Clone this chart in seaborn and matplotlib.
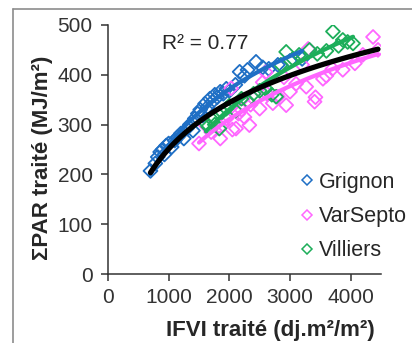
import numpy as np
import pandas as pd
import matplotlib
matplotlib.use("Agg")
import matplotlib.pyplot as plt
from matplotlib.lines import Line2D
import seaborn as sns

sns.set_style("white")
plt.rcParams['font.family'] = ['Liberation Sans', 'DejaVu Sans']

# ---- data ----
grignon_x = [700, 780, 820, 860, 900, 930, 960, 1000, 1050, 1100, 1150, 1200, 1250, 1300,
             1350, 1400, 1430, 1480, 1520, 1560, 1600, 1640, 1680, 1720, 1760, 1800, 1850,
             1900, 1950, 2000, 2100, 2170, 2250, 2300, 2440, 2550, 2650, 2800, 3000, 3200]
grignon_y = [207, 222, 235, 245, 250, 240, 258, 262, 255, 268, 275, 282, 272, 292,
             300, 288, 312, 322, 330, 318, 342, 335, 352, 346, 360, 355, 366,
             362, 372, 368, 380, 406, 398, 410, 426, 415, 412, 420, 428, 432]

varsepto_x = [1500, 1600, 1700, 1850, 1890, 1950, 2030, 2050, 2110, 2150, 2200, 2250, 2330,
              2350, 2400, 2500, 2550, 2620, 2717, 2800, 2937, 3000, 3100, 3267, 3300, 3405,
              3420, 3543, 3600, 3700, 3870, 4070, 4200, 4369, 4450, 2600, 2900, 3200]
varsepto_y = [262, 300, 285, 272, 300, 312, 373, 290, 292, 322, 330, 315, 299,
              340, 352, 332, 385, 362, 343, 356, 339, 366, 382, 376, 452, 346,
              355, 392, 398, 412, 410, 423, 440, 476, 450, 405, 395, 420]

villiers_x = [1615, 1650, 1700, 1760, 1835, 1880, 1950, 2000, 2100, 2200, 2300, 2400, 2500,
              2600, 2700, 2771, 2850, 2937, 3050, 3150, 3322, 3450, 3600, 3708, 3800, 3870,
              3950, 4039]
villiers_y = [303, 296, 312, 300, 292, 325, 332, 338, 328, 352, 348, 362, 368,
              372, 360, 356, 420, 446, 432, 440, 450, 442, 448, 487, 458, 470,
              466, 463]

sites = ["Grignon", "VarSepto", "Villiers"]
colors = {"Grignon": "#1F6FC5", "VarSepto": "#FF66FF", "Villiers": "#1DAE5A"}
x_ticks = [0, 1000, 2000, 3000, 4000]
y_ticks = [0, 100, 200, 300, 400, 500]
r2_text = "R² = 0.77"

df = pd.concat([
    pd.DataFrame({"x": grignon_x, "y": grignon_y, "site": "Grignon"}),
    pd.DataFrame({"x": varsepto_x, "y": varsepto_y, "site": "VarSepto"}),
    pd.DataFrame({"x": villiers_x, "y": villiers_y, "site": "Villiers"}),
], ignore_index=True)

fig = plt.figure(figsize=(4.12, 3.43), dpi=100)
# grey frame (left and top edges visible)
fig.add_artist(Line2D([12.5 / 412, 12.5 / 412], [0, 1 - 8.5 / 343], transform=fig.transFigure,
                      color="#8c8c8c", lw=1.2))
fig.add_artist(Line2D([12.5 / 412, 1], [1 - 8.5 / 343, 1 - 8.5 / 343], transform=fig.transFigure,
                      color="#8c8c8c", lw=1.2))

ax = fig.add_axes([108 / 412, 1 - 274 / 343, 273 / 412, 249 / 343])

sns.scatterplot(data=df, x="x", y="y", hue="site", hue_order=sites, palette=colors,
                marker="D", s=50, linewidth=1.3, ax=ax, legend=False)
for c in ax.collections:
    fc = c.get_facecolors()
    c.set_edgecolors(fc)
    c.set_facecolors("none")

# site-wise logarithmic trends
for site in sites:
    sub = df[df.site == site]
    b, a = np.polyfit(np.log(sub.x), sub.y, 1)
    xs = np.linspace(sub.x.min(), sub.x.max(), 100)
    ax.plot(xs, a + b * np.log(xs), color=colors[site], lw=3, zorder=3)

b, a = np.polyfit(np.log(df.x), df.y, 1)
xs = np.linspace(df.x.min(), df.x.max(), 100)
ax.plot(xs, a + b * np.log(xs), color="black", lw=3.8, zorder=4)

ax.set_xlim(0, 4500)
ax.set_ylim(0, 500)
ax.set_xticks(x_ticks)
ax.set_yticks(y_ticks)
ax.tick_params(axis="both", labelsize=15, colors="#333333", length=5, width=1.1,
               direction="out", bottom=True, left=True)
ax.tick_params(axis="x", pad=5)
ax.tick_params(axis="y", pad=6)
for s in ["top", "right"]:
    ax.spines[s].set_visible(False)
for s in ["left", "bottom"]:
    ax.spines[s].set_color("#333333")
    ax.spines[s].set_linewidth(1.1)

ax.set_xlabel("IFVI traité (dj.m²/m²)", fontsize=16, fontweight="bold", color="#262626")
ax.set_ylabel("ΣPAR traité (MJ/m²)", fontsize=16, fontweight="bold", color="#262626")
ax.xaxis.set_label_coords(0.596, -0.183)
ax.yaxis.set_label_coords(-0.202, 0.466)

ax.text(893, 462, r2_text, fontsize=15, color="#262626", va="center", ha="left")

handles = [Line2D([], [], marker="D", ls="none", markersize=5, markerfacecolor="none",
                  markeredgecolor=colors[s], markeredgewidth=1.1) for s in sites]
ax.legend(handles, sites, loc="lower right", bbox_to_anchor=(1.15, -0.01), frameon=False,
          fontsize=15.5, handlelength=0.6, handletextpad=0.25, labelspacing=0.62,
          borderpad=0.2)

fig.savefig("out.png", dpi=100)
